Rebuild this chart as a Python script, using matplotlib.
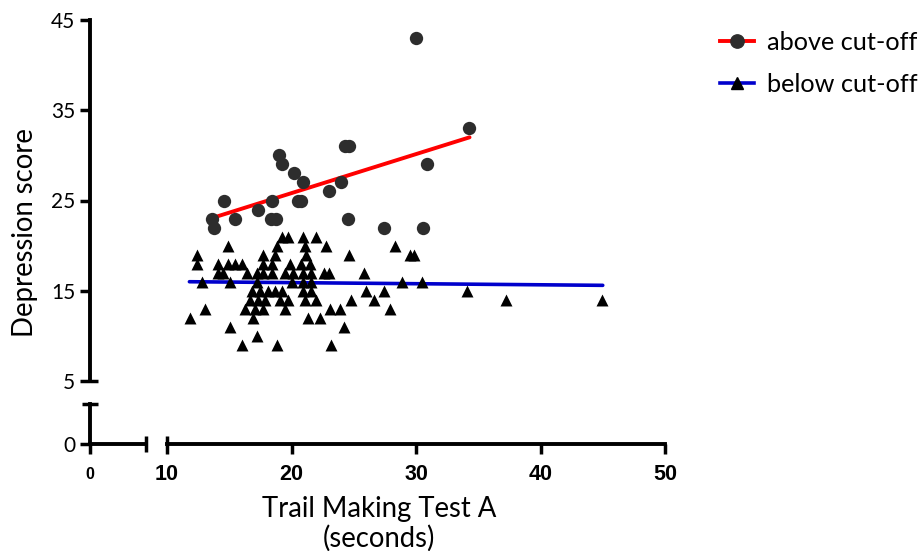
import matplotlib
matplotlib.use('Agg')
import matplotlib.pyplot as plt
from matplotlib.lines import Line2D
from matplotlib.ticker import FixedLocator, NullFormatter

# ---------------- data ----------------
above_x = [30.0, 34.25, 24.3, 24.6, 19.0, 19.25, 30.85, 20.2, 20.9, 24.0, 23.05,
           14.6, 18.45, 20.5, 20.8, 17.3, 13.65, 15.45, 18.35, 18.75, 24.55,
           13.8, 27.45, 30.6]
above_y = [43, 33, 31, 31, 30, 29, 29, 28, 27, 27, 26,
           25, 25, 25, 25, 24, 23, 23, 23, 23, 23,
           22, 22, 22]

below_x = [19.2, 19.7, 20.9, 22.0,
           14.9, 18.8, 21.1, 22.8, 28.3,
           12.4, 17.7, 18.7, 21.2, 24.6, 29.5, 29.8,
           12.4, 14.1, 14.9, 15.5, 16.0, 17.7, 18.4, 19.9, 20.8, 21.5,
           14.1, 14.5, 16.4, 17.2, 17.7, 18.4, 19.5, 20.1, 20.9, 21.6, 22.6, 23.0, 25.8,
           12.8, 15.1, 17.2, 20.0, 20.9, 21.6, 28.9, 30.5,
           16.8, 17.5, 18.1, 18.7, 19.2, 20.9, 21.6, 26.0, 27.4, 34.1,
           16.7, 17.3, 17.9, 19.1, 19.7, 21.1, 22.0, 24.8, 26.6, 37.2, 44.9,
           13.05, 16.3, 17.1, 17.7, 19.5, 23.1, 23.9, 27.9,
           11.85, 16.9, 21.3, 22.3,
           15.1, 24.2,
           17.2,
           16.0, 18.8, 23.2]
below_y = [21] * 4 + [20] * 5 + [19] * 7 + [18] * 10 + [17] * 13 + [16] * 8 + \
          [15] * 10 + [14] * 11 + [13] * 8 + [12] * 4 + [11] * 2 + [10] * 1 + [9] * 3

above_fit_x = [13.6, 34.3]
above_fit_y = [23.05, 32.0]
below_fit_x = [11.8, 45.0]
below_fit_y = [16.0, 15.6]

y_ticks_upper = [5, 15, 25, 35, 45]
x_ticks_right = [10, 20, 30, 40, 50]
series_labels = ['above cut-off', 'below cut-off']
x_title = 'Trail Making Test A\n(seconds)'
y_title = 'Depression score'

# ---------------- layout ----------------
W, H = 921, 551
fig = plt.figure(figsize=(W / 100, H / 100), dpi=100)


def rect(x0, y0, x1, y1):
    return [x0 / W, 1 - y1 / H, (x1 - x0) / W, (y1 - y0) / H]


LATO = 'Lato'
SP_LW = 2.8
TK_W = 2.5
TK_L = 7.5
YT_SIZE = 15
XT_SIZE = 15.5

# main data axes (y 5..45)
ax = fig.add_axes(rect(90, 20, 665, 381))
ax.set_xlim(10 - 77 / 12.45, 50)
ax.set_ylim(5, 45)
for s in ['top', 'right', 'bottom']:
    ax.spines[s].set_visible(False)
ax.spines['left'].set_linewidth(SP_LW)
ax.set_xticks([])
ax.yaxis.set_major_locator(FixedLocator(y_ticks_upper))
ax.yaxis.set_minor_locator(FixedLocator([5]))
ax.yaxis.set_minor_formatter(NullFormatter())
ax.yaxis.remove_overlapping_locs = False
ax.tick_params(axis='y', which='major', direction='out', length=TK_L, width=TK_W, pad=3,
               labelsize=YT_SIZE)
ax.tick_params(axis='y', which='minor', direction='in', length=6, width=TK_W)
for lab in ax.get_yticklabels():
    lab.set_fontfamily(LATO)
ax.patch.set_alpha(0)

ax.plot(above_fit_x, above_fit_y, color='#ff0000', lw=2.8, zorder=2, solid_capstyle='round')
ax.plot(below_fit_x, below_fit_y, color='#0000cc', lw=2.6, zorder=2, solid_capstyle='round')
ax.scatter(above_x, above_y, s=92, marker='o', color='#2d2d2d', linewidths=0, zorder=3,
           clip_on=False)
ax.scatter(below_x, below_y, s=74, marker='^', color='black', linewidths=0, zorder=3,
           clip_on=False)

# bottom-right x axis (10..50)
axr = fig.add_axes(rect(167, 404, 665, 444))
axr.set_xlim(10, 50)
axr.set_ylim(0, 1)
for s in ['top', 'right', 'left']:
    axr.spines[s].set_visible(False)
axr.spines['bottom'].set_linewidth(SP_LW)
axr.set_yticks([])
axr.xaxis.set_major_locator(FixedLocator(x_ticks_right))
axr.xaxis.set_minor_locator(FixedLocator([10]))
axr.xaxis.set_minor_formatter(NullFormatter())
axr.xaxis.remove_overlapping_locs = False
axr.tick_params(axis='x', which='major', direction='out', length=TK_L, width=TK_W, pad=7,
                labelsize=XT_SIZE)
axr.tick_params(axis='x', which='minor', direction='in', length=6, width=TK_W)
for lab in axr.get_xticklabels():
    lab.set_fontfamily('Liberation Sans')
    lab.set_fontweight('bold')
axr.patch.set_alpha(0)

# bottom-left corner piece (0)
axl = fig.add_axes(rect(90, 404, 146, 444))
axl.set_xlim(0, 1)
axl.set_ylim(0, 1)
for s in ['top', 'right']:
    axl.spines[s].set_visible(False)
axl.spines['bottom'].set_linewidth(SP_LW)
axl.spines['left'].set_linewidth(SP_LW)
axl.xaxis.set_major_locator(FixedLocator([0]))
axl.xaxis.set_minor_locator(FixedLocator([1]))
axl.yaxis.set_major_locator(FixedLocator([0]))
axl.yaxis.set_minor_locator(FixedLocator([1]))
axl.xaxis.set_minor_formatter(NullFormatter())
axl.yaxis.set_minor_formatter(NullFormatter())
axl.set_xticklabels(['0'])
axl.set_yticklabels(['0'])
axl.tick_params(axis='both', which='major', direction='out', length=TK_L, width=TK_W)
axl.tick_params(axis='x', which='major', pad=9, labelsize=11.5)
axl.tick_params(axis='y', which='major', pad=3, labelsize=YT_SIZE)
axl.tick_params(axis='both', which='minor', direction='inout', length=12, width=TK_W)
for lab in axl.get_xticklabels():
    lab.set_fontfamily('Liberation Sans')
    lab.set_fontweight('bold')
for lab in axl.get_yticklabels():
    lab.set_fontfamily(LATO)
axl.patch.set_alpha(0)

# axis titles
fig.text(379 / W, 1 - 524 / H, x_title, ha='center', va='center', fontsize=19.8,
         family=LATO, linespacing=1.14)
fig.text(25 / W, 1 - 233 / H, y_title, ha='center', va='center', rotation=90,
         fontsize=19.8, family=LATO)

# legend
handles = [
    Line2D([], [], color='#ff0000', lw=2.8, marker='o', ms=9.6,
           mfc='#2d2d2d', mec='#2d2d2d'),
    Line2D([], [], color='#0000cc', lw=2.6, marker='^', ms=8.8,
           mfc='black', mec='black'),
]
leg = fig.legend(handles, series_labels, loc='upper left',
                 bbox_to_anchor=(720 / W, 1 - 31 / H), frameon=False,
                 prop={'family': LATO, 'size': 18.2}, handlelength=1.35,
                 handletextpad=0.5, labelspacing=0.75, borderpad=0,
                 borderaxespad=0)

fig.savefig('out.png', dpi=100)
